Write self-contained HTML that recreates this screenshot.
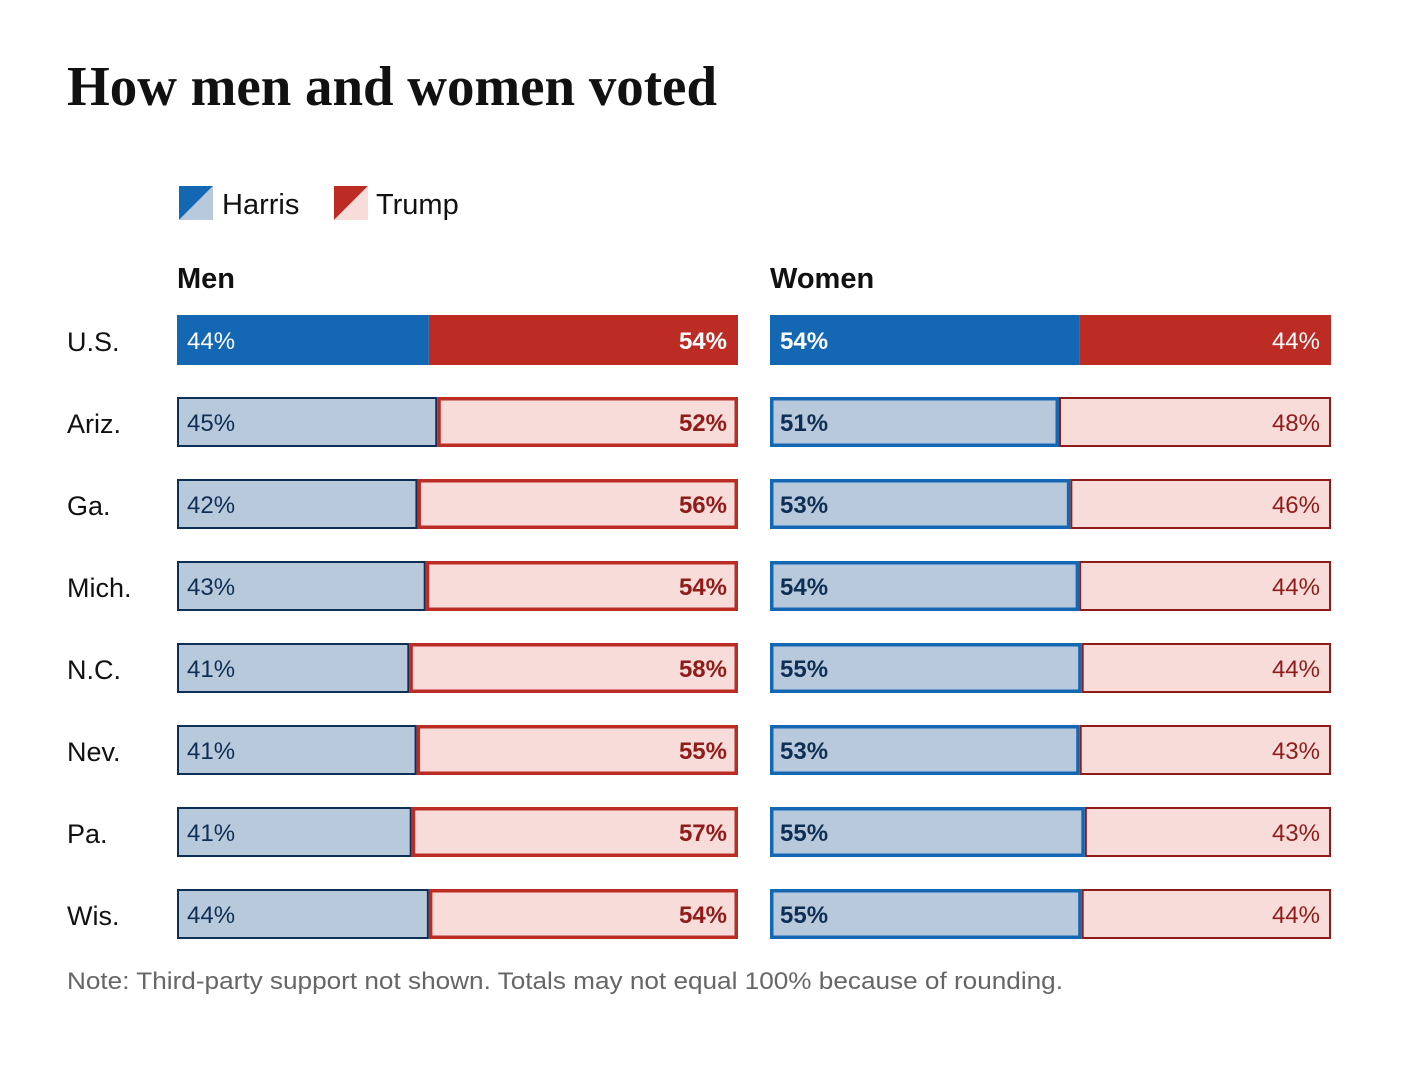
<!DOCTYPE html>
<html><head><meta charset="utf-8"><style>
body{margin:0;background:#fff;}
svg{display:block;font-family:"Liberation Sans",sans-serif;}
</style></head><body>
<svg id="chart" width="1404" height="1084">
<text x="67" y="105" font-family="Liberation Serif,serif" font-weight="bold" font-size="56" textLength="650" lengthAdjust="spacingAndGlyphs" fill="#111">How men and women voted</text>
<g>
<g>
<polygon points="179,186 213,186 179,220" fill="#1467b3"/><polygon points="213,186 213,220 179,220" fill="#b9c9dc"/>
<text x="222" y="214" font-size="29" fill="#111">Harris</text></g>
<g>
<polygon points="334,186 368,186 334,220" fill="#bd2b25"/><polygon points="368,186 368,220 334,220" fill="#f8dcda"/>
<text x="376" y="214" font-size="29" fill="#111">Trump</text></g>
</g>
<text x="177" y="288" font-size="29" font-weight="bold" fill="#111">Men</text>
<text x="770" y="288" font-size="29" font-weight="bold" fill="#111">Women</text>
<g id="rows"></g>
<text x="67" y="989" font-size="24" fill="#666" textLength="996" lengthAdjust="spacingAndGlyphs">Note: Third-party support not shown. Totals may not equal 100% because of rounding.</text>
</svg>
<script>
const regions = ["U.S.","Ariz.","Ga.","Mich.","N.C.","Nev.","Pa.","Wis."];
const menHarris = [44,45,42,43,41,41,41,44];
const menTrump = [54,52,56,54,58,55,57,54];
const womenHarris = [54,51,53,54,55,53,55,55];
const womenTrump = [44,48,46,44,44,43,43,44];

const NS="http://www.w3.org/2000/svg";
const g=document.getElementById('rows');
const W=561, H=50, top0=315, pitch=82;
function rowY(i){return top0+i*pitch;}
function mk(tag,attrs){const e=document.createElementNS(NS,tag);for(const k in attrs)e.setAttribute(k,attrs[k]);return e;}
function rect(x,y,w,h,fill,stroke,sw){
  if(sw) return mk('rect',{x:x+sw/2,y:y+sw/2,width:w-sw,height:h-sw,fill:fill,stroke:stroke,'stroke-width':sw});
  return mk('rect',{x:x,y:y,width:w,height:h,fill:fill});
}
function txt(x,y,s,fill,bold,anchor){
  const t=mk('text',{x:x,y:y,'font-size':24,fill:fill,'text-anchor':anchor});
  if(bold)t.setAttribute('font-weight','bold');
  t.textContent=s;return t;
}
function panel(x0,h,t,i,isMen){
  const y=rowY(i);
  const hw=h/(h+t)*W;
  const harrisWins=h>t;
  let hb,tb;
  if(i===0){
    hb=rect(x0,y,hw,H,'#1467b3');tb=rect(x0+hw,y,W-hw,H,'#bd2b25');
  } else {
    hb=harrisWins?rect(x0,y,hw,H,'#b9c9dc','#1467b3',3.5):rect(x0,y,hw,H,'#b9c9dc','#0d2f55',2);
    tb=harrisWins?rect(x0+hw,y,W-hw,H,'#f8dcda','#8f1c19',2):rect(x0+hw,y,W-hw,H,'#f8dcda','#bd2b25',3.5);
  }
  
  
  
  
  if(harrisWins){g.appendChild(tb);g.appendChild(hb);}else{g.appendChild(hb);g.appendChild(tb);}
  const hc=i===0?'#fff':'#0d2f55', tc=i===0?'#fff':'#8f1c19';
  const ht=txt(x0+10,y+34,h+'%',hc,harrisWins,'start');
  
  
  g.appendChild(ht);
  const tt=txt(x0+W-11,y+34,t+'%',tc,!harrisWins,'end');
  
  
  g.appendChild(tt);
}
regions.forEach((r,i)=>{
  const l=mk('text',{x:67,y:rowY(i)+36,'font-size':27,fill:'#111'});
  l.textContent=r;
  
  
  g.appendChild(l);
  panel(177,menHarris[i],menTrump[i],i,true);
  panel(770,womenHarris[i],womenTrump[i],i,false);
});
</script>
</body></html>
